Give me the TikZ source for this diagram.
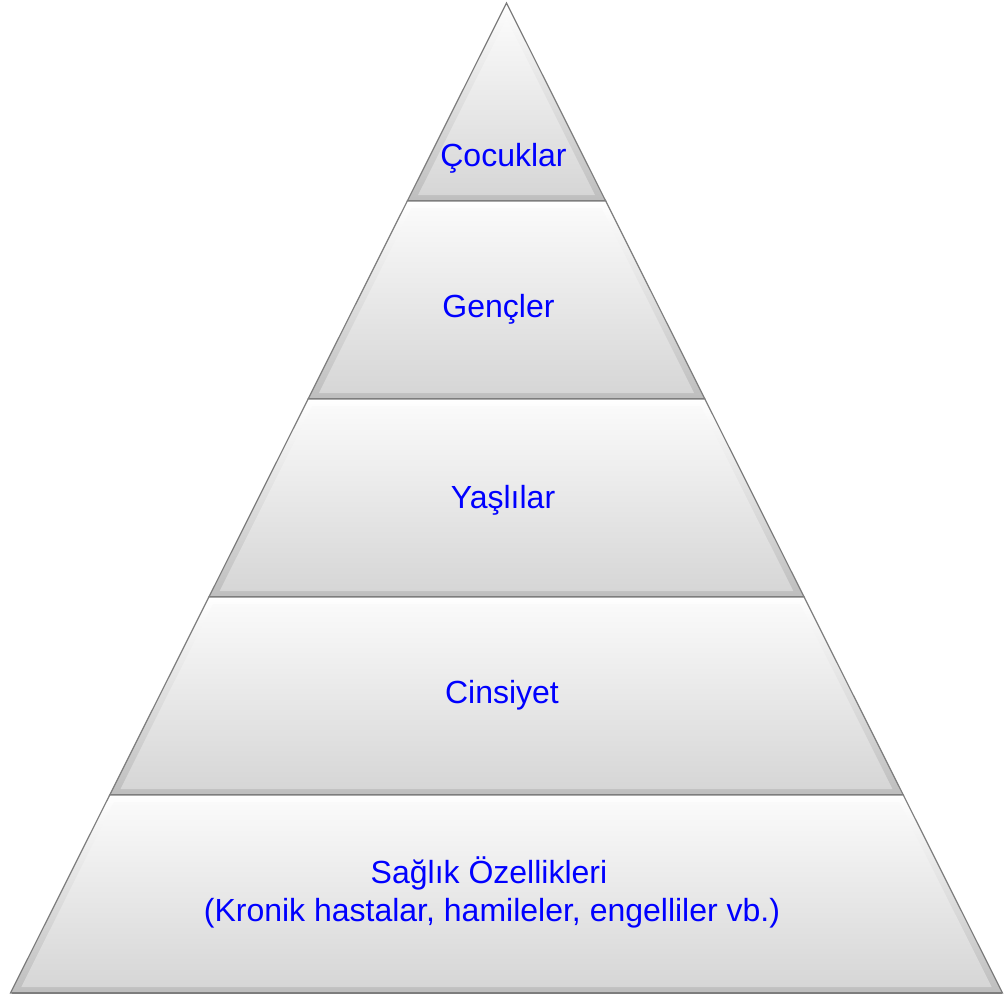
\documentclass[tikz,border=0pt]{standalone}
\usepackage{fontspec}
\setmainfont{Liberation Sans}
\definecolor{txtblue}{RGB}{0,0,255}
\definecolor{edgegray}{RGB}{125,125,125}
\definecolor{bevlow}{RGB}{190,190,190}
\definecolor{facetop}{RGB}{250,250,250}
\definecolor{facebot}{RGB}{214,214,214}
\tikzset{
  lbl/.style={text=txtblue, font=\fontsize{32}{38}\selectfont, anchor=base, inner sep=0pt},
  outerband/.style={top color=white, bottom color=bevlow, draw=edgegray, line width=1.2pt, line join=miter},
  innerband/.style={top color=facetop, bottom color=facebot},
  bottomline/.style={draw=edgegray, line width=2.4pt}
}
\begin{document}
\begin{tikzpicture}[x=1pt,y=-1pt]
\useasboundingbox (0,0) rectangle (1006,996);
\def\ax{506.5}
\foreach \t/\b in {3/201,201/399,399/597,597/795,795/993}{
  \pgfmathsetmacro\hwt{(\t-3)*0.501}
  \pgfmathsetmacro\hwb{(\b-3)*0.501}
  \pgfmathsetmacro\ti{max(\t+7,19)}
  \pgfmathsetmacro\bi{\b-6}
  \pgfmathsetmacro\hwti{max((\ti-3)*0.501-7.8,0)}
  \pgfmathsetmacro\hwbi{(\bi-3)*0.501-7.8}
  \path[outerband] (\ax-\hwt,\t) -- (\ax+\hwt,\t) -- (\ax+\hwb,\b) -- (\ax-\hwb,\b) -- cycle;
  \path[innerband] (\ax-\hwti,\ti) -- (\ax+\hwti,\ti) -- (\ax+\hwbi,\bi) -- (\ax-\hwbi,\bi) -- cycle;
  \draw[bottomline] (\ax-\hwb+1,\b) -- (\ax+\hwb-1,\b);
}
\node[lbl] (cocuklar) at (503.5,166) {Çocuklar};
\node[lbl] (gencler) at (498.5,317) {Gençler};
\node[lbl] (yaslilar) at (503,508) {Yaşlılar};
\node[lbl] (cinsiyet) at (502,703) {Cinsiyet};
\node[lbl] (saglik) at (489,883) {Sağlık Özellikleri};
\node[lbl] (kronik) at (492,921) {(Kronik hastalar, hamileler, engelliler vb.)};
\end{tikzpicture}
\end{document}
